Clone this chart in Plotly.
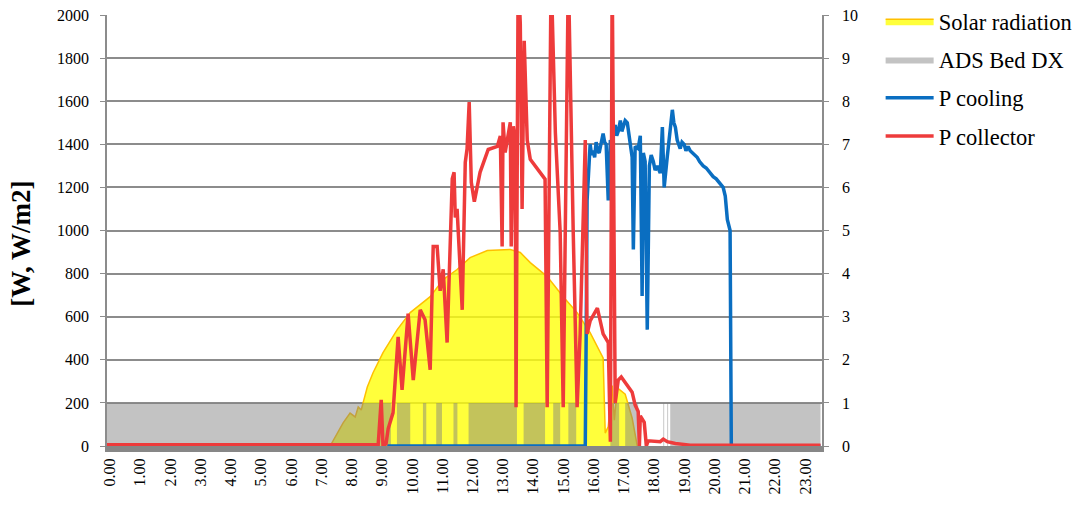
import plotly.graph_objects as go

# ---------------- data (hours of day) ----------------
solar_t = [7.28, 7.71, 7.94, 8.11, 8.21, 8.31, 8.37, 8.51, 8.70, 9.03, 9.50, 9.93, 10.26, 10.59,
           11.02, 11.48, 11.91, 12.48, 13.24, 13.57, 13.90, 14.46, 14.99, 15.45, 15.88, 16.12,
           16.31, 16.38, 16.48, 16.61, 16.68, 16.78, 17.04, 17.27, 17.44]
solar_w = [0, 107, 153, 135, 181, 167, 200, 274, 340, 433, 540, 619, 656, 693,
           772, 819, 874, 907, 912, 898, 851, 786, 693, 619, 526, 460,
           409, 60, 90, 280, 120, 270, 240, 130, 0]

ads_on_start = [-0.1, 9.49, 10.35, 10.79, 11.36, 11.86, 13.68, 14.66, 15.16, 16.55, 17.04, 18.30, 18.43, 18.53]
ads_on_end = [9.29, 9.93, 10.46, 10.98, 11.49, 13.46, 14.39, 14.89, 15.42, 16.84, 17.47, 18.33, 18.46, 23.5]

cool_t = [9.17, 15.72, 15.75, 15.78, 15.88, 15.93, 15.98, 16.03, 16.08, 16.13, 16.18, 16.25, 16.31,
          16.36, 16.41, 16.48, 16.55, 16.60, 16.64, 16.71, 16.76, 16.81, 16.88, 16.93, 16.98, 17.04,
          17.11, 17.21, 17.27, 17.31, 17.37, 17.47, 17.54, 17.60, 17.64, 17.70, 17.77, 17.84, 17.90,
          17.97, 18.03, 18.10, 18.20, 18.27, 18.33, 18.43, 18.53, 18.60, 18.65, 18.70, 18.76, 18.81,
          18.86, 18.92, 18.99, 19.05, 19.12, 19.19, 19.26, 19.33, 19.42, 19.50, 19.62, 19.72, 19.82,
          19.95, 20.05, 20.15, 20.28, 20.35, 20.42, 20.51, 20.55, 23.5]
cool_kw = [0, 0, 2.64, 5.7, 7.0, 6.75, 6.85, 6.7, 7.05, 6.85, 6.8, 7.1, 7.25,
           7.05, 7.0, 5.7, 7.1, 6.95, 7.2, 7.45, 7.2, 7.3, 7.55, 7.3, 7.4, 7.55,
           7.5, 6.9, 6.7, 4.56, 6.95, 6.9, 7.2, 3.48, 6.8, 6.6, 2.7, 6.5, 6.75,
           6.6, 6.4, 6.5, 6.33, 7.4, 6.0, 6.7, 7.4, 7.8, 7.5, 7.4, 7.1, 7.0,
           6.9, 7.05, 7.0, 6.85, 6.95, 6.85, 6.8, 6.75, 6.7, 6.6, 6.5, 6.45, 6.35,
           6.25, 6.2, 6.1, 6.0, 5.8, 5.25, 5.0, 0, 0]

coll_t = [-0.1, 8.87, 8.97, 9.03, 9.13, 9.20, 9.36, 9.53, 9.66, 9.86, 10.03, 10.26, 10.42, 10.59,
          10.69, 10.82, 10.92, 11.02, 11.15, 11.32, 11.38, 11.42, 11.48, 11.65, 11.75, 11.81, 11.88,
          11.95, 12.05, 12.24, 12.51, 12.81, 12.91, 12.97, 13.00, 13.07, 13.24, 13.27, 13.34, 13.40,
          13.43, 13.50, 13.57, 13.63, 13.70, 13.80, 13.90, 14.13, 14.23, 14.39, 14.46, 14.59, 14.73,
          14.89, 14.99, 15.16, 15.32, 15.45, 15.55, 15.72, 15.78, 15.88, 16.12, 16.31, 16.48, 16.55,
          16.61, 16.71, 16.81, 16.91, 17.27, 17.37, 17.47, 17.51, 17.54, 17.67, 17.74, 17.80, 18.20,
          18.30, 18.43, 18.70, 19.19, 23.5]
coll_kw = [0.03, 0.03, 1.07, 0.0, 0.05, 0.4, 0.77, 2.53, 1.3, 3.07, 1.53, 3.16, 2.93, 1.77,
           4.63, 4.63, 3.6, 4.1, 2.4, 6.2, 6.35, 5.3, 5.5, 3.16, 6.58, 6.9, 7.98,
           6.12, 5.67, 6.35, 6.88, 6.95, 7.19, 4.63, 7.51, 6.81, 7.51, 4.63, 7.42, 7.12,
           0.9, 11, 9.8, 5.5, 9.4, 7.1, 6.65, 6.42, 6.35, 6.19, 0.9, 11, 7.28,
           4.95, 0.9, 11, 5.0, 0.9, 2.6, 7.1, 2.6, 2.9, 3.2, 2.6, 2.4, 0.1,
           11, 1.0, 1.53, 1.6, 1.25, 0.95, 0.8, 0.0, 0.7, 0.55, 0.0, 0.12, 0.1,
           0.16, 0.1, 0.06, 0.02, 0.02]

hour_ticks = list(range(24))
hour_labels = [f"{h}.00" for h in hour_ticks]
y_title = "[W, W/m2]"

# ADS on/off as a step series
ads_t, ads_v = [], []
for s, e in zip(ads_on_start, ads_on_end):
    ads_t += [s, e]
    ads_v += [1, 0]

FONT = "Liberation Serif, Times New Roman, serif"
GRID = "#8c8c8c"
TICKFONT = dict(family=FONT, size=16, color="black")

fig = go.Figure()
fig.add_trace(go.Scatter(
    x=solar_t, y=solar_w, name="Solar radiation", mode="lines",
    line=dict(color="#FFC000", width=1.5), fill="tozeroy",
    fillcolor="rgba(255,255,10,0.80)", legendgroup="a", yaxis="y"))
fig.add_trace(go.Scatter(
    x=ads_t, y=ads_v, name="ADS Bed DX", mode="lines", line_shape="hv",
    line=dict(color="rgba(128,128,128,0)", width=0), fill="tozeroy",
    fillcolor="rgba(128,128,128,0.47)", legendgroup="b", yaxis="y2"))
fig.add_trace(go.Scatter(
    x=cool_t, y=cool_kw, name="P cooling", mode="lines",
    line=dict(color="#0A6EC1", width=3.5), legendgroup="c", yaxis="y2"))
fig.add_trace(go.Scatter(
    x=coll_t, y=coll_kw, name="P collector", mode="lines",
    line=dict(color="#EE3B3B", width=3.5), legendgroup="d", yaxis="y2"))

fig.update_layout(
    width=1082, height=512,
    margin=dict(l=107, r=260, t=15, b=66, autoexpand=False),
    paper_bgcolor="white", plot_bgcolor="white",
    font=dict(family=FONT, size=16, color="black"),
    showlegend=True,
    legend=dict(x=1.082, y=1.0, xref="paper", yref="container", xanchor="left", yanchor="top",
                font=dict(family=FONT, size=22.5, color="black"),
                itemwidth=48, tracegroupgap=6, bgcolor="rgba(0,0,0,0)"),
    xaxis=dict(range=[-0.1, 23.55], tickmode="array", tickvals=hour_ticks, ticktext=hour_labels,
               tickangle=-90, showgrid=False, zeroline=False, showline=True,
               linecolor="#878787", linewidth=6, ticks="", tickfont=TICKFONT),
    yaxis=dict(range=[0, 2000], dtick=200, showgrid=True, gridcolor=GRID, gridwidth=1.5,
               zeroline=False, showline=True, linecolor=GRID, linewidth=1.5,
               ticks="outside", ticklen=5, tickcolor=GRID, tickfont=TICKFONT,
               ticklabelstandoff=8),
    yaxis2=dict(range=[0, 10], dtick=1, overlaying="y", side="right", showgrid=False,
                zeroline=False, showline=True, linecolor=GRID, linewidth=1.5,
                ticks="outside", ticklen=5, tickcolor=GRID, tickfont=TICKFONT,
                ticklabelstandoff=10),
    annotations=[dict(text=f"<b>{y_title}</b>", textangle=-90, showarrow=False,
                      xref="paper", yref="paper", x=-0.12, y=0.47,
                      xanchor="center", yanchor="middle",
                      font=dict(family=FONT, size=27, color="black"))],
)

fig.write_html("out.html")
